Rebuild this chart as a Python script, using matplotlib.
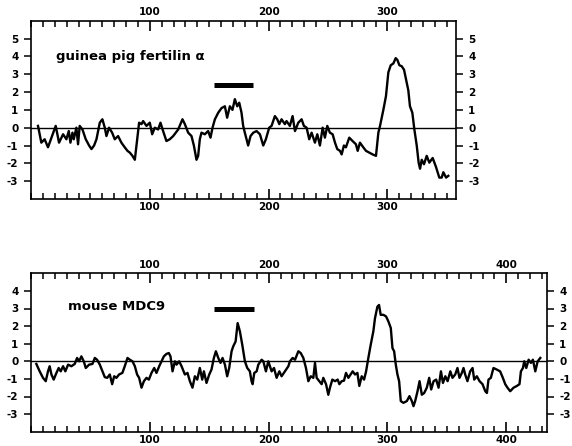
import matplotlib
matplotlib.use("Agg")
import matplotlib.pyplot as plt
from matplotlib.ticker import MultipleLocator, FixedLocator

plt.rcParams.update({
    'font.family': ['DejaVu Sans'],
    'font.weight': 'bold',
    'axes.unicode_minus': False,
    'axes.linewidth': 1.2,
    'xtick.direction': 'in',
    'xtick.top': True,
    'xtick.bottom': True,
    'xtick.labeltop': True,
    'xtick.labelbottom': True,
    'xtick.major.size': 7,
    'xtick.major.width': 1.2,
    'xtick.minor.size': 4,
    'xtick.minor.width': 1.1,
    'xtick.major.pad': 2.5,
    'xtick.labelsize': 7.5,
    'ytick.direction': 'out',
    'ytick.left': True,
    'ytick.right': True,
    'ytick.labelleft': True,
    'ytick.labelright': True,
    'ytick.major.size': 5,
    'ytick.major.width': 1.1,
    'ytick.major.pad': 4,
    'ytick.labelsize': 7.5,
})

# ---- guinea pig fertilin alpha (top) ----
top_x = [5.9, 8.7, 11.5, 14.3, 17.2, 20.8, 23.6, 27.0, 29.8, 31.8, 33.2, 34.9, 36.0, 38.2, 39.6,
         41.0, 43.3, 46.1, 48.9, 50.9, 53.1, 55.1, 57.9, 60.1, 62.1, 63.5, 65.7, 68.3, 70.5, 73.3,
         76.1, 78.9, 81.2, 83.2, 85.4, 87.4, 88.8, 91.0, 93.0, 94.4, 97.2, 100.0, 102.0, 104.2, 107.0,
         109.0, 111.2, 114.0, 116.8, 119.7, 123.9, 127.5, 129.5, 132.3, 135.1, 137.1, 139.3, 140.7,
         142.1, 143.5, 146.3, 149.1, 151.1, 152.8, 154.8, 157.6, 160.4, 163.2, 165.1, 167.4, 169.6,
         171.6, 173.6, 175.3, 177.2, 178.6, 180.0, 182.8, 184.8, 187.1, 189.9, 192.7, 195.5, 197.7,
         200.5, 202.5, 205.3, 207.3, 209.0, 210.9, 213.7, 215.1, 217.9, 220.2, 222.2, 225.0, 227.8,
         229.7, 232.0, 234.2, 236.2, 239.0, 241.0, 243.2, 245.5, 247.4, 249.4, 251.6, 253.9, 255.9,
         257.8, 260.1, 261.5, 263.4, 265.1, 267.9, 270.7, 273.5, 275.0, 276.9, 279.7, 282.0, 284.8,
         287.6, 290.4, 292.4, 293.8, 296.6, 298.8, 300.8, 302.8, 305.0, 307.0, 308.4, 310.1, 312.0,
         314.0, 315.7, 317.6, 319.0, 321.0, 322.7, 324.7, 326.3, 327.5, 328.9, 330.8, 333.1, 335.3,
         338.1, 340.9, 343.7, 345.7, 347.1, 349.4, 351.3]
top_y = [0.1, -0.84, -0.65, -1.1, -0.56, 0.1, -0.84, -0.37, -0.65, -0.19, -0.84, -0.28, -0.65, 0.0, -0.93,
         0.1, -0.1, -0.65, -1.0, -1.2, -1.0, -0.65, 0.28, 0.47, 0.0, -0.47, 0.0, -0.28, -0.65, -0.47,
         -0.84, -1.1, -1.3, -1.4, -1.58, -1.8, -1.0, 0.28, 0.2, 0.37, 0.1, 0.28, -0.37, 0.0, -0.1,
         0.28, -0.19, -0.75, -0.65, -0.47, -0.1, 0.47, 0.2, -0.28, -0.47, -1.0, -1.8, -1.58,
         -0.65, -0.28, -0.37, -0.19, -0.56, 0.0, 0.47, 0.84, 1.1, 1.2, 0.56, 1.2, 1.0,
         1.6, 1.2, 1.4, 0.84, 0.1, -0.28, -1.0, -0.47, -0.28, -0.19, -0.37, -1.0, -0.65,
         0.0, 0.1, 0.65, 0.47, 0.2, 0.47, 0.2, 0.37, 0.1, 0.65, -0.19, 0.28, 0.47,
         0.1, 0.0, -0.65, -0.28, -0.84, -0.37, -1.0, 0.0, -0.56, 0.1, -0.28, -0.37, -0.84,
         -1.2, -1.3, -1.5, -1.0, -1.1, -0.56, -0.75, -0.93, -1.3, -0.84, -1.1, -1.3, -1.4,
         -1.5, -1.58, -0.28, 0.1, 1.0, 1.77, 3.1, 3.5, 3.6, 3.9, 3.8, 3.5, 3.45,
         3.25, 2.7, 2.1, 1.2, 0.84, -0.1, -1.0, -1.96, -2.3, -1.8, -2.05, -1.58, -1.96,
         -1.7, -2.2, -2.8, -2.8, -2.5, -2.8, -2.7]

# ---- mouse MDC9 (bottom) ----
bot_x = [4.5, 7.3, 10.1, 12.4, 14.3, 15.7, 17.2, 19.1, 21.4, 23.3, 25.0, 27.0, 28.9, 31.2, 34.0,
         36.8, 38.8, 40.5, 42.4, 44.4, 46.1, 48.9, 51.7, 53.7, 55.6, 57.9, 60.1, 62.1, 64.1, 66.3,
         68.3, 70.0, 71.9, 74.1, 76.9, 78.9, 81.2, 83.2, 85.4, 87.4, 89.3, 91.0, 93.0, 95.0, 97.2,
         99.2, 101.4, 103.7, 105.6, 107.9, 109.8, 111.8, 114.0, 116.0, 117.4, 119.1, 121.1, 122.5,
         124.7, 126.7, 129.5, 131.7, 133.7, 135.9, 137.9, 139.9, 142.1, 144.1, 145.5, 147.7, 150.0,
         151.9, 153.9, 155.6, 157.6, 159.5, 161.2, 163.2, 165.1, 166.8, 168.8, 170.2, 172.2, 173.9,
         175.8, 177.8, 180.0, 182.0, 184.2, 185.6, 186.5, 187.9, 189.9, 191.3, 194.1, 195.5, 197.7,
         199.7, 202.5, 204.5, 206.7, 209.0, 210.9, 213.7, 216.6, 217.9, 220.2, 222.2, 225.0, 227.0,
         229.2, 231.4, 233.4, 235.4, 237.6, 239.0, 240.4, 242.6, 244.6, 246.0, 248.3, 250.2, 251.6,
         253.6, 255.9, 258.1, 259.5, 261.5, 263.4, 265.1, 267.1, 269.0, 270.7, 272.7, 274.7, 276.3,
         278.3, 280.3, 282.0, 283.9, 285.9, 288.1, 289.5, 291.5, 292.9, 294.3, 296.6, 298.8, 300.8,
         302.8, 304.2, 305.6, 307.0, 308.4, 309.8, 311.2, 313.4, 316.3, 318.5, 320.5, 321.9, 323.3,
         325.3, 327.0, 328.9, 330.9, 333.1, 335.1, 336.8, 338.8, 341.0, 343.0, 345.0, 346.7, 348.7,
         350.6, 352.9, 354.7, 357.0, 358.9, 360.6, 362.6, 364.0, 365.4, 367.3, 369.6, 371.6, 373.0,
         375.2, 377.5, 380.0, 382.3, 383.7, 385.0, 387.0, 389.2, 392.0, 394.8, 397.1, 399.1, 401.0,
         403.3, 406.1, 408.9, 411.1, 412.3, 414.0, 415.1, 416.8, 418.8, 420.7, 422.4, 424.4, 426.4,
         428.6]
bot_y = [-0.15, -0.57, -0.94, -1.13, -0.57, -0.28, -0.75, -1.04, -0.66, -0.38, -0.57, -0.28, -0.57, -0.19, -0.28,
         -0.15, 0.19, 0.0, 0.28, 0.0, -0.38, -0.19, -0.15, 0.19, 0.09, -0.19, -0.57, -0.9, -0.94, -0.75,
         -1.3, -0.85, -0.94, -0.75, -0.66, -0.28, 0.19, 0.09, 0.0, -0.28, -0.75, -0.94, -1.5, -1.13, -0.94,
         -1.04, -0.66, -0.38, -0.66, -0.28, 0.0, 0.28, 0.42, 0.47, 0.28, -0.57, 0.0, -0.19,
         0.0, -0.28, -0.75, -0.66, -1.13, -1.5, -0.85, -1.04, -0.38, -1.04, -0.57, -1.23, -0.75,
         -0.47, 0.19, 0.57, 0.19, -0.09, 0.19, -0.19, -0.85, -0.38, 0.57, 0.85, 1.13, 2.17,
         1.7, 0.94, 0.0, -0.38, -0.57, -1.13, -1.3, -0.66, -0.57, -0.19, 0.09, 0.0, -0.57,
         0.0, -0.57, -0.38, -0.94, -0.57, -0.85, -0.57, -0.28, 0.0, 0.19, 0.09, 0.57, 0.47,
         0.19, -0.38, -1.13, -0.85, -0.94, -0.09, -0.94, -1.13, -1.3, -0.94, -1.3, -1.9, -1.5,
         -1.04, -1.13, -1.04, -1.3, -1.13, -1.1, -0.66, -0.94, -0.75, -0.57, -0.75, -0.66, -1.4,
         -0.85, -1.04, -0.57, 0.19, 0.94, 1.7, 2.45, 3.1, 3.2, 2.64, 2.64, 2.55, 2.26,
         1.89, 0.75, 0.57, -0.19, -0.75, -1.13, -2.26, -2.36, -2.26, -1.98, -2.26, -2.55, -2.26,
         -1.7, -1.13, -1.9, -1.8, -1.5, -0.94, -1.6, -1.13, -1.04, -1.5, -0.57, -1.23, -0.85,
         -1.13, -0.57, -0.94, -0.75, -0.38, -0.94, -0.66, -0.38, -0.75, -1.13, -0.57, -0.38, -1.04,
         -0.85, -1.13, -1.3, -1.7, -1.8, -1.04, -0.94, -0.38, -0.47, -0.57, -0.94, -1.3, -1.5,
         -1.7, -1.5, -1.4, -1.3, -0.57, -0.38, 0.0, -0.38, 0.09, -0.09, 0.09, -0.57, 0.0,
         0.19]

panels = [
    dict(x=top_x, y=top_y, xlim=(0, 357.5), ylim=(-4, 6), yticks=list(range(-3, 6)),
         xticks=[100, 200, 300], bar=(154, 187, 2.37), label="guinea pig fertilin α",
         label_pos=(21, 4.0), rect=[31 / 572, 1 - 199 / 446, (455.7 - 31) / 572, (199 - 20.7) / 446]),
    dict(x=bot_x, y=bot_y, xlim=(0, 434), ylim=(-4, 5), yticks=list(range(-3, 5)),
         xticks=[100, 200, 300, 400], bar=(154, 188, 2.95), label="mouse MDC9",
         label_pos=(31, 3.1), rect=[31 / 572, 1 - 431.7 / 446, (546.7 - 31) / 572, (431.7 - 273.3) / 446]),
]

fig = plt.figure(figsize=(5.72, 4.46), dpi=100)

for p in panels:
    ax = fig.add_axes(p['rect'])
    ax.set_xlim(*p['xlim'])
    ax.set_ylim(*p['ylim'])
    ax.xaxis.set_major_locator(FixedLocator(p['xticks']))
    ax.xaxis.set_minor_locator(MultipleLocator(10))
    ax.set_yticks(p['yticks'])
    ax.plot(p['x'], p['y'], color='black', lw=1.7)
    ax.axhline(0, color='black', lw=1.0)
    b0, b1, by = p['bar']
    ax.plot([b0, b1], [by, by], color='black', lw=3.6, solid_capstyle='butt')
    ax.text(p['label_pos'][0], p['label_pos'][1], p['label'], fontsize=9.5,
            va='center', ha='left')

fig.savefig('out.png', dpi=100)
